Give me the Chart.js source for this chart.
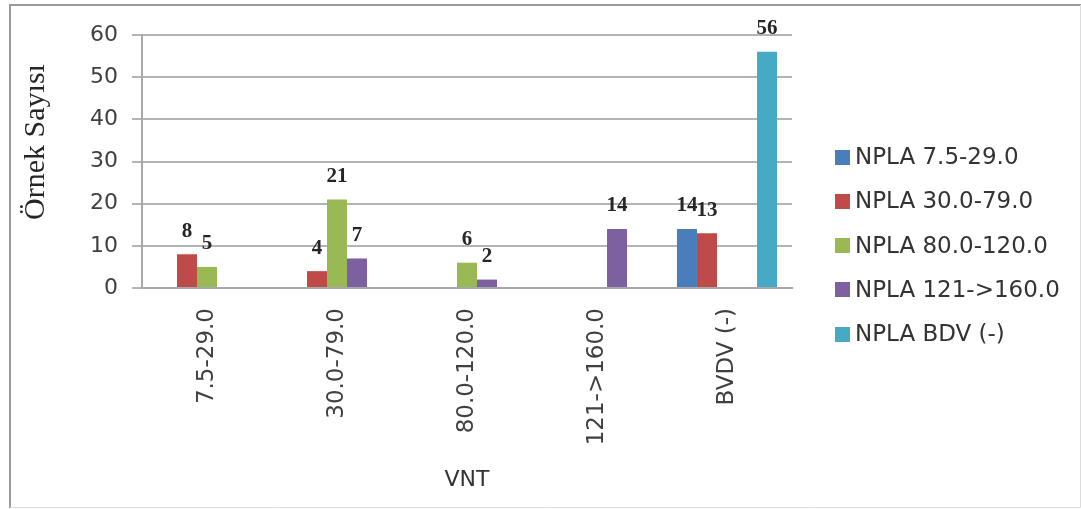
<!DOCTYPE html>
<html>
<head>
<meta charset="utf-8">
<script src="https://cdn.jsdelivr.net/npm/chart.js@4.4.1/dist/chart.umd.min.js"></script>
<style>
  html, body { margin: 0; padding: 0; background: #ffffff; }
  #wrap { width: 1081px; height: 509px; position: relative; }
</style>
</head>
<body>
<div id="wrap"><canvas id="chart" width="1081" height="509"></canvas></div>
<script>
// VNT groups on the category axis
const categories = ['7.5-29.0', '30.0-79.0', '80.0-120.0', '121->160.0', 'BVDV (-)'];

// NPLA series (null = no bar in that group)
const seriesNames = ['NPLA 7.5-29.0', 'NPLA 30.0-79.0', 'NPLA 80.0-120.0', 'NPLA 121->160.0', 'NPLA BDV (-)'];
const nplaA = [null, null, null, null, 14];
const nplaB = [8, 4, null, null, 13];
const nplaC = [5, 21, 6, null, null];
const nplaD = [null, 7, 2, 14, null];
const nplaE = [null, null, null, null, 56];

// value axis
const yMin = 0;
const yMax = 60;
const yStep = 10;

const seriesColors = ['#4a7ebb', '#be4b48', '#98b954', '#7d60a0', '#46aac5'];
const seriesValues = [nplaA, nplaB, nplaC, nplaD, nplaE];

// value labels above each bar
const valueLabels = {
  id: 'valueLabels',
  afterDatasetsDraw(chart) {
    const ctx = chart.ctx;
    ctx.save();
    ctx.font = 'bold 21px "Liberation Serif", serif';
    ctx.fillStyle = '#262626';
    ctx.textAlign = 'center';
    ctx.textBaseline = 'middle';
    chart.data.datasets.forEach((ds, i) => {
      const meta = chart.getDatasetMeta(i);
      meta.data.forEach((el, j) => {
        const v = ds.data[j];
        if (v === null || v === undefined) return;
        ctx.fillText(String(v), el.x, el.y - 23);
      });
    });
    ctx.restore();
  }
};

// axis titles, legend and frame
const decorations = {
  id: 'decorations',
  afterDraw(chart) {
    const ctx = chart.ctx;
    const area = chart.chartArea;
    ctx.save();

    // y title
    ctx.save();
    ctx.translate(36, 142);
    ctx.rotate(-Math.PI / 2);
    ctx.font = '30px "Liberation Serif", serif';
    ctx.fillStyle = '#262626';
    ctx.textAlign = 'center';
    ctx.textBaseline = 'middle';
    ctx.fillText('Örnek Sayısı', 0, 0);
    ctx.restore();

    // x title
    ctx.font = '22px "DejaVu Sans", sans-serif';
    ctx.fillStyle = '#333333';
    ctx.textAlign = 'center';
    ctx.textBaseline = 'middle';
    ctx.fillText('VNT', (area.left + area.right) / 2, 480);

    // legend
    ctx.font = '23px "DejaVu Sans", sans-serif';
    ctx.textAlign = 'left';
    chart.data.datasets.forEach((ds, i) => {
      const cy = 157 + i * 44.3;
      ctx.fillStyle = ds.backgroundColor;
      ctx.fillRect(835, Math.round(cy - 7.5), 15, 15);
      ctx.fillStyle = '#333333';
      ctx.fillText(ds.label, 855, cy + 1);
    });

    // frame
    ctx.strokeStyle = '#9a9a9a';
    ctx.lineWidth = 2;
    ctx.beginPath();
    ctx.moveTo(10, 508);
    ctx.lineTo(10, 5);
    ctx.lineTo(1081, 5);
    ctx.stroke();
    ctx.strokeStyle = '#dcdcdc';
    ctx.lineWidth = 1;
    ctx.beginPath();
    ctx.moveTo(10, 507.5);
    ctx.lineTo(1080.5, 507.5);
    ctx.lineTo(1080.5, 5);
    ctx.stroke();

    ctx.restore();
  }
};

new Chart(document.getElementById('chart'), {
  type: 'bar',
  data: {
    labels: categories,
    datasets: seriesNames.map((name, i) => ({
      label: name,
      data: seriesValues[i],
      backgroundColor: seriesColors[i],
      borderWidth: 0,
      categoryPercentage: 0.77,
      barPercentage: 1.0
    }))
  },
  options: {
    responsive: false,
    animation: false,
    layout: { padding: { top: 35, right: 289, left: 0, bottom: 0 } },
    plugins: {
      legend: { display: false },
      tooltip: { enabled: false }
    },
    scales: {
      x: {
        afterFit(scale) { scale.height = 221; },
        grid: { display: false, drawTicks: false },
        border: { display: true, color: '#a8a8a8', width: 2 },
        ticks: {
          autoSkip: false,
          minRotation: 90,
          maxRotation: 90,
          padding: 20,
          color: '#404040',
          font: { family: '"DejaVu Sans", sans-serif', size: 23 }
        }
      },
      y: {
        min: yMin,
        max: yMax,
        afterFit(scale) { scale.width = 142; },
        grid: { color: '#b4b4b4', lineWidth: 2, drawTicks: true, tickLength: 10 },
        border: { display: true, color: '#a8a8a8', width: 2 },
        ticks: {
          stepSize: yStep,
          padding: 14,
          color: '#404040',
          font: { family: '"DejaVu Sans", sans-serif', size: 22 }
        }
      }
    }
  },
  plugins: [valueLabels, decorations]
});
</script>
</body>
</html>
